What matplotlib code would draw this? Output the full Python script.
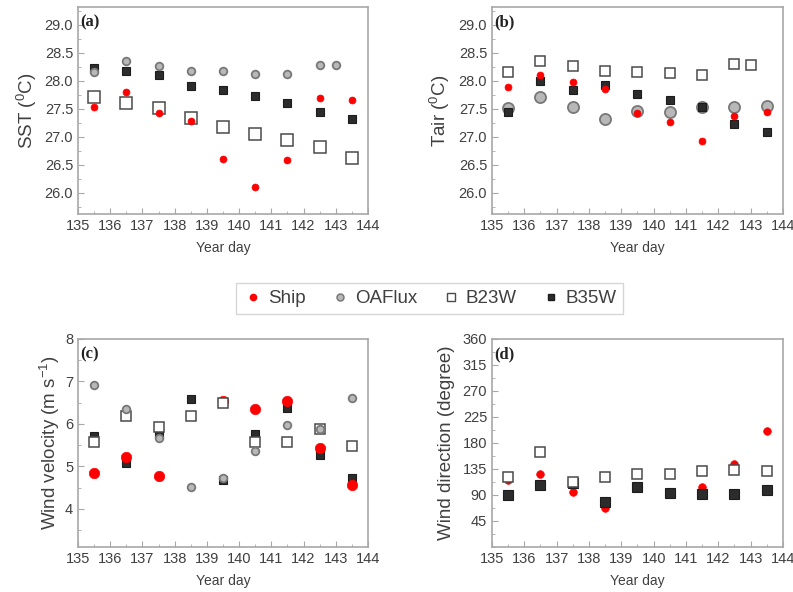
import numpy as np
import matplotlib
matplotlib.use("Agg")
import matplotlib.pyplot as plt
from matplotlib.lines import Line2D
from matplotlib.ticker import MultipleLocator, FormatStrFormatter

plt.rcParams['font.family'] = ['Liberation Sans', 'DejaVu Sans']
plt.rcParams['mathtext.fontset'] = 'custom'
plt.rcParams['mathtext.rm'] = 'Liberation Sans'
plt.rcParams['mathtext.it'] = 'Liberation Sans:italic'

nan = np.nan
days = [135.5, 136.5, 137.5, 138.5, 139.5, 140.5, 141.5, 142.5, 143.5]
days_alt = [135.5, 136.5, 137.5, 138.5, 139.5, 140.5, 141.5, 142.5, 143.0]

# (a) SST
sst_ship = [27.54, 27.80, 27.43, 27.29, 26.61, 26.11, 26.58, 27.69, 27.65]
sst_oaflux = [28.15, 28.36, 28.26, 28.17, 28.17, 28.13, 28.13, 28.29, 28.28]
sst_b23w = [27.71, 27.61, 27.51, 27.34, 27.18, 27.05, 26.94, 26.82, 26.62]
sst_b35w = [28.23, 28.17, 28.10, 27.90, 27.83, 27.73, 27.60, 27.45, 27.32]

# (b) Tair
tair_ship = [27.89, 28.10, 27.98, 27.86, 27.43, 27.26, 26.92, 27.38, 27.45]
tair_oaflux = [27.52, 27.71, 27.54, 27.31, 27.46, 27.44, 27.53, 27.54, 27.55]
tair_b23w = [28.15, 28.36, 28.26, 28.17, 28.16, 28.14, 28.11, 28.30, 28.28]
tair_b35w = [27.45, 27.99, 27.83, 27.93, 27.76, 27.65, 27.53, 27.22, 27.08]

# (c) Wind velocity
ws_ship = [4.85, 5.22, 4.77, nan, 6.53, 6.35, 6.53, 5.44, 4.55]
ws_oaflux = [6.91, 6.34, 5.67, 4.51, 4.73, 5.36, 5.98, 5.87, 6.61]
ws_b23w = [5.58, 6.18, 5.93, 6.18, 6.49, 5.58, 5.58, 5.87, 5.47]
ws_b35w = [5.71, 5.07, 5.76, 6.59, 4.69, 5.76, 6.38, 5.26, 4.73]

# (d) Wind direction
wd_ship = [116, 126, 96, 67, 103, 94, 104, 144, 201]
wd_b23w = [122, 165, 113, 121, 126, 127, 132, 133, 132]
wd_b35w = [90, 108, 110, 78, 103, 94, 91, 92, 99]

RED = '#ff0000'
GRAY_F, GRAY_E = '#b8b8b8', '#787878'
OPEN_E = '#4a4a4a'
BLACK_F, BLACK_E = '#2c2c2c', '#1c1c1c'
SPINE = '#a8a8a8'
TXT = '#404040'

W, H = 793, 592
fig = plt.figure(figsize=(W / 100, H / 100), dpi=100)

def add_ax(l, r, t, b):
    return fig.add_axes([l / W, (H - b) / H, (r - l) / W, (b - t) / H])

ax_a = add_ax(78, 368, 7, 214)
ax_b = add_ax(492, 783, 7, 214)
ax_c = add_ax(78, 368, 339, 547)
ax_d = add_ax(492, 783, 339, 547)

def style(ax, label, ylabel, labelpad):
    ax.set_xlim(135, 144)
    ax.xaxis.set_major_locator(MultipleLocator(1))
    ax.xaxis.set_minor_locator(MultipleLocator(0.5))
    for s in ax.spines.values():
        s.set_color(SPINE)
        s.set_linewidth(1.2)
    ax.tick_params(which='both', direction='in', colors=SPINE, labelcolor=TXT,
                   labelsize=10.5, top=False, right=False)
    ax.tick_params(which='major', length=4)
    ax.tick_params(which='minor', length=2)
    ax.set_xlabel('Year day', fontsize=10, color=TXT, labelpad=6)
    ax.set_ylabel(ylabel, fontsize=13.5, color=TXT, labelpad=labelpad)
    ax.text(0.008, 0.925, label, transform=ax.transAxes, fontsize=12,
            fontweight='bold', family='Liberation Serif', color='#222222',
            va='center', ha='left')

def ship(ax, x, y, ms, z):
    ax.plot(x, y, 'o', ls='none', ms=ms, mfc=RED, mec=RED, mew=0.5, zorder=z)

def oaflux(ax, x, y, ms, z):
    ax.plot(x, y, 'o', ls='none', ms=ms, mfc=GRAY_F, mec=GRAY_E, mew=1.3, zorder=z)

def b23w(ax, x, y, ms, z):
    ax.plot(x, y, 's', ls='none', ms=ms, mfc='white', mec=OPEN_E, mew=1.1, zorder=z)

def b35w(ax, x, y, ms, z):
    ax.plot(x, y, 's', ls='none', ms=ms, mfc=BLACK_F, mec=BLACK_E, mew=0.8, zorder=z)

# (a)
b35w(ax_a, days, sst_b35w, 6, 3)
b23w(ax_a, days, sst_b23w, 8, 4)
ship(ax_a, days, sst_ship, 5, 5)
oaflux(ax_a, days_alt, sst_oaflux, 5.5, 6)
ax_a.set_ylim(25.62, 29.32)
ax_a.yaxis.set_minor_locator(MultipleLocator(0.25))
ax_a.yaxis.set_major_formatter(FormatStrFormatter('%.1f'))
ax_a.set_yticks([26.0, 26.5, 27.0, 27.5, 28.0, 28.5, 29.0])
style(ax_a, '(a)', 'SST ($^{0}$C)', 4)

# (b)
oaflux(ax_b, days, tair_oaflux, 8, 3)
b35w(ax_b, days, tair_b35w, 6, 4)
b23w(ax_b, days_alt, tair_b23w, 6.5, 5)
ship(ax_b, days, tair_ship, 5, 6)
ax_b.set_ylim(25.62, 29.32)
ax_b.yaxis.set_minor_locator(MultipleLocator(0.25))
ax_b.yaxis.set_major_formatter(FormatStrFormatter('%.1f'))
ax_b.set_yticks([26.0, 26.5, 27.0, 27.5, 28.0, 28.5, 29.0])
style(ax_b, '(b)', 'Tair ($^{0}$C)', 4.5)

# (c)
b35w(ax_c, days, ws_b35w, 6, 3)
ship(ax_c, days, ws_ship, 7.5, 4)
b23w(ax_c, days, ws_b23w, 6.5, 5)
oaflux(ax_c, days, ws_oaflux, 5.5, 6)
ax_c.set_ylim(3.1, 8)
ax_c.set_yticks([4, 5, 6, 7, 8])
ax_c.yaxis.set_minor_locator(MultipleLocator(0.5))
style(ax_c, '(c)', 'Wind velocity (m s$^{-1}$)', 2)

# (d)
ship(ax_d, days, wd_ship, 5.5, 3)
b35w(ax_d, days, wd_b35w, 7, 4)
b23w(ax_d, days, wd_b23w, 7, 5)
ax_d.set_ylim(0, 360)
ax_d.set_yticks([45, 90, 135, 180, 225, 270, 315, 360])
ax_d.yaxis.set_minor_locator(MultipleLocator(22.5))
style(ax_d, '(d)', 'Wind direction (degree)', 5.5)

# legend
handles = [
    Line2D([], [], marker='o', ls='none', ms=4.5, mfc=RED, mec=RED),
    Line2D([], [], marker='o', ls='none', ms=5, mfc=GRAY_F, mec=GRAY_E, mew=1.1),
    Line2D([], [], marker='s', ls='none', ms=5.5, mfc='white', mec=OPEN_E, mew=1.0),
    Line2D([], [], marker='s', ls='none', ms=5, mfc=BLACK_F, mec=BLACK_E),
]
leg = fig.legend(handles, ['Ship', 'OAFlux', 'B23W', 'B35W'], ncol=4,
                 loc='center', bbox_to_anchor=(429.5 / W, 1 - 298.5 / H),
                 fontsize=13.5, frameon=True, fancybox=False,
                 handletextpad=0.2, columnspacing=1.2, handlelength=1.2,
                 borderpad=0.35)
leg.get_frame().set_edgecolor('#cccccc')
leg.get_frame().set_linewidth(1.0)
for t in leg.get_texts():
    t.set_color(TXT)

fig.savefig('out.png', dpi=100)
